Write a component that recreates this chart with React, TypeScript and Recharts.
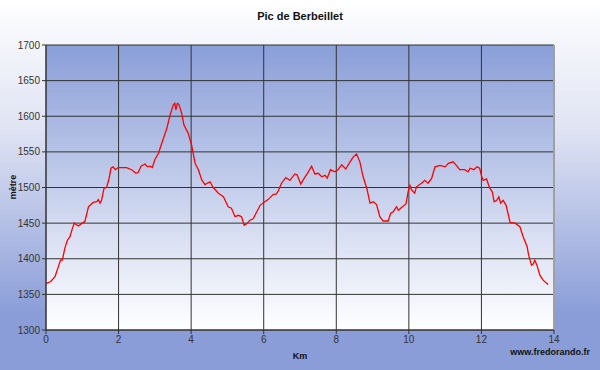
import React from 'react';
import {
  LineChart,
  Line,
  XAxis,
  YAxis,
  CartesianGrid,
  ReferenceLine,
} from 'recharts';

const kmValues = [
  0.0, 0.13, 0.25, 0.34, 0.4, 0.45, 0.52, 0.59, 0.66, 0.73, 0.78, 0.89, 1.03, 1.07, 1.17, 1.3, 1.4, 1.44,
  1.49, 1.53, 1.6, 1.67, 1.74, 1.79, 1.85, 1.91, 1.99, 2.22, 2.36, 2.48, 2.54, 2.62, 2.73, 2.8, 2.87, 2.93,
  3.0, 3.1, 3.19, 3.33, 3.42, 3.51, 3.55, 3.58, 3.62, 3.66, 3.74, 3.8, 3.92, 4.01, 4.11, 4.2, 4.29, 4.38,
  4.52, 4.61, 4.75, 4.89, 5.02, 5.11, 5.21, 5.3, 5.39, 5.46, 5.53, 5.62, 5.71, 5.81, 5.9, 6.03, 6.12, 6.26,
  6.35, 6.4, 6.49, 6.61, 6.72, 6.86, 6.92, 7.02, 7.14, 7.23, 7.32, 7.41, 7.5, 7.6, 7.69, 7.75, 7.84, 7.96,
  8.05, 8.15, 8.26, 8.38, 8.47, 8.56, 8.65, 8.74, 8.84, 8.93, 9.02, 9.11, 9.2, 9.29, 9.43, 9.5, 9.57, 9.66,
  9.71, 9.8, 9.92, 9.98, 10.03, 10.07, 10.16, 10.21, 10.35, 10.44, 10.53, 10.63, 10.72, 10.86, 11.0, 11.09,
  11.22, 11.31, 11.4, 11.54, 11.63, 11.69, 11.79, 11.88, 11.95, 12.01, 12.05, 12.14, 12.23, 12.3, 12.35,
  12.42, 12.48, 12.53, 12.6, 12.68, 12.79, 12.93, 13.06, 13.15, 13.26, 13.3, 13.38, 13.43, 13.47, 13.53,
  13.61, 13.7, 13.79, 13.84,
];

const altitudes = [
  1365, 1368, 1375, 1389, 1398, 1398, 1415, 1426, 1431, 1443, 1450, 1446, 1451, 1452, 1473, 1479, 1480, 1483,
  1478, 1482, 1499, 1500, 1513, 1527, 1529, 1525, 1528, 1528, 1525, 1520, 1521, 1530, 1533, 1529, 1530, 1528,
  1539, 1548, 1562, 1583, 1602, 1616, 1618, 1609, 1618, 1617, 1604, 1588, 1576, 1560, 1534, 1525, 1511, 1504,
  1508, 1500, 1492, 1487, 1473, 1471, 1459, 1461, 1459, 1447, 1449, 1454, 1456, 1466, 1475, 1480, 1483, 1490,
  1491, 1495, 1506, 1514, 1510, 1519, 1518, 1505, 1515, 1522, 1530, 1519, 1520, 1515, 1517, 1513, 1525, 1522,
  1525, 1532, 1526, 1536, 1543, 1547, 1536, 1515, 1499, 1478, 1480, 1476, 1459, 1453, 1453, 1464, 1466, 1473,
  1468, 1472, 1477, 1494, 1503, 1497, 1492, 1501, 1506, 1510, 1506, 1513, 1529, 1531, 1529, 1534,
  1536, 1531, 1525, 1525, 1522, 1527, 1525, 1529, 1527, 1515, 1510, 1512, 1499, 1494, 1480,
  1482, 1487, 1478, 1482, 1475, 1451, 1450, 1445, 1431, 1417, 1405, 1391, 1393, 1398, 1391,
  1377, 1370, 1366, 1364,
];

const xTicks = [0, 2, 4, 6, 8, 10, 12, 14];
const yTicks = [1300, 1350, 1400, 1450, 1500, 1550, 1600, 1650, 1700];

const profile = kmValues.map((km, i) => ({ km, alt: altitudes[i] }));

const font = 'Arial, "Liberation Sans", sans-serif';
const tickStyle = { fill: '#333', fontSize: 10, fontFamily: font };

export default function App() {
  return (
    <div
      style={{
        position: 'fixed',
        left: 0,
        top: 0,
        width: 600,
        height: 370,
        background: 'linear-gradient(to bottom, #ffffff 0%, #dfe3f3 35%, #8a9dd8 85%, #8a9dd8 100%)',
        fontFamily: font,
      }}
    >
      <LineChart
        width={600}
        height={370}
        data={profile}
        margin={{ top: 45, right: 46, bottom: 18, left: 0 }}
      >
        <defs>
          <linearGradient id="plotBg" x1="0" y1="0" x2="0" y2="1">
            <stop offset="0%" stopColor="#8a9ed8" />
            <stop offset="100%" stopColor="#ffffff" />
          </linearGradient>
        </defs>
        <CartesianGrid stroke="#333" fill="url(#plotBg)" fillOpacity={1} />
        <XAxis
          dataKey="km"
          type="number"
          domain={[0, 14]}
          ticks={xTicks}
          height={22}
          tick={tickStyle}
          tickSize={4}
          tickMargin={2}
          axisLine={{ stroke: '#333' }}
          tickLine={{ stroke: '#333' }}
        />
        <YAxis
          dataKey="alt"
          type="number"
          domain={[1300, 1700]}
          ticks={yTicks}
          width={46}
          tick={tickStyle}
          tickSize={4}
          tickMargin={2}
          axisLine={{ stroke: '#333' }}
          tickLine={{ stroke: '#333' }}
        />
        <ReferenceLine x={14} stroke="#a0a0a0" strokeWidth={2} />
        <Line
          type="linear"
          dataKey="alt"
          stroke="#ff0000"
          strokeWidth={1.3}
          dot={false}
          isAnimationActive={false}
        />
      </LineChart>
      <div
        style={{
          position: 'absolute',
          left: 0,
          top: 10,
          width: 600,
          textAlign: 'center',
          fontSize: 11,
          fontWeight: 'bold',
          color: '#111',
        }}
      >
        Pic de Berbeillet
      </div>
      <div
        style={{
          position: 'absolute',
          left: 13,
          top: 187,
          transform: 'translate(-50%, -50%) rotate(-90deg)',
          fontSize: 9,
          fontWeight: 'bold',
          color: '#111',
        }}
      >
        mètre
      </div>
      <div
        style={{
          position: 'absolute',
          left: 0,
          top: 351,
          width: 600,
          textAlign: 'center',
          fontSize: 9,
          fontWeight: 'bold',
          color: '#111',
        }}
      >
        Km
      </div>
      <div
        style={{
          position: 'absolute',
          right: 10,
          top: 347,
          fontSize: 9,
          fontWeight: 'bold',
          color: '#111',
        }}
      >
        www.fredorando.fr
      </div>
    </div>
  );
}
